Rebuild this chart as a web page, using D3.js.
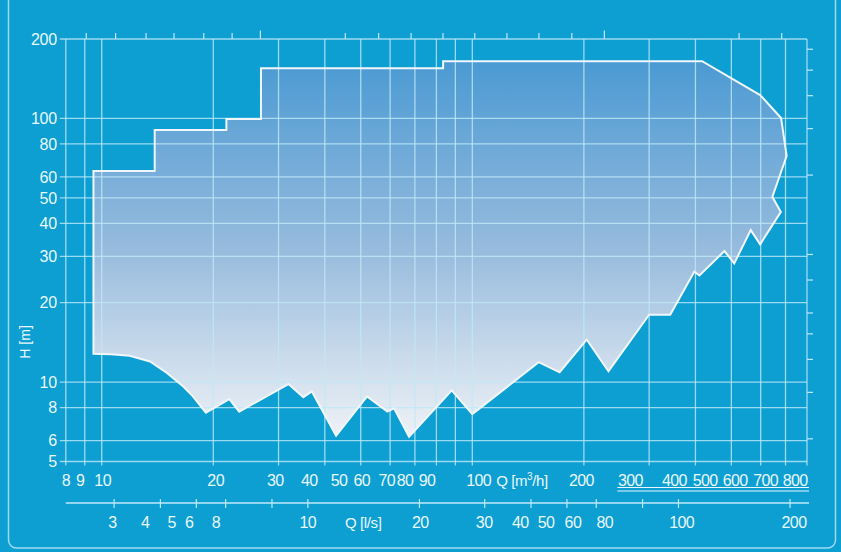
<!DOCTYPE html>
<html>
<head>
<meta charset="utf-8">
<script src="https://d3js.org/d3.v7.min.js"></script>
<style>
  html, body { margin: 0; padding: 0; background: #0d9fd2; }
  svg { display: block; }
  .lbl { font-family: 'Liberation Sans', Arial, sans-serif; fill: #e9f7fd; }
</style>
</head>
<body>
<div class="js-chart"></div>
<script>
(function() {
  'use strict';

  /* ------------------------------------------------------------ *\
      Pump range envelope (Q in m3/h, H in m), clockwise
  \* ------------------------------------------------------------ */

  var envelopeQ = [9.5, 9.5, 13.9, 13.9, 21.7, 21.7, 26.9, 26.9, 83.4, 83.4, 417, 598, 681, 705, 645, 680,
    598, 564, 509, 479, 410, 397, 342, 300, 233, 203.5, 172, 151, 100, 88, 67.5, 61.5, 59, 52, 42.9, 36.9,
    35.0, 31.9, 23.5, 22.1, 19.1, 17.6, 16.6, 15.0, 13.5, 11.9, 10.6, 9.5];
  var envelopeH = [12.8, 63.2, 63.2, 90.3, 90.3, 99.4, 99.4, 155, 155, 164.8, 164.8, 122.6, 100.3, 72.1, 50.4, 44.2,
    33.3, 37.7, 28.2, 31.4, 25.4, 26.2, 18.0, 18.0, 11.0, 14.5, 10.9, 11.9, 7.56, 9.3, 6.21, 7.96, 7.73, 8.82, 6.27, 9.21,
    8.77, 9.83, 7.73, 8.62, 7.66, 8.85, 9.62, 10.83, 11.98, 12.59, 12.75, 12.8];

  /* ------------------------------------------------------------ *\
      Axis values
  \* ------------------------------------------------------------ */

  var hTicks = [5, 6, 8, 10, 20, 30, 40, 50, 60, 80, 100, 200];
  var qGrid = [8, 9, 10, 20, 30, 40, 50, 60, 70, 80, 90, 100, 200, 300, 400, 500, 600, 700, 800];
  // the printed labels sit a little off their grid lines, so keep where they sit (in m3/h)
  var qLabels = ['8', '9', '10', '20', '30', '40', '50', '60', '70', '80', '90', '100', '200',
    '300', '400', '500', '600', '700', '800'];
  var qLabelAt = [8.0, 8.74, 10.06, 20.3, 29.4, 36.3, 43.7, 50.3, 58.8, 65.8, 75.5, 104, 197,
    267, 351, 425, 512, 619, 743];
  var lpsTicks = [3, 4, 5, 6, 8, 10, 20, 30, 40, 50, 60, 80, 100, 200];
  var lpsLabelAt = [2.97, 3.64, 4.29, 4.78, 5.65, 10.0, 20.1, 29.9, 37.4, 43.9, 51.9, 63.3, 102, 205];
  var ftTicks = [20, 30, 40, 50, 60, 80, 100, 200, 300, 400, 500, 600];
  var gpmTicks = [40, 48, 58, 69, 83, 99, 118, 200, 246, 301, 367, 447, 546, 666, 817, 1000, 2310, 3010];
  var gpmMajor = [118, 1000];

  /* ------------------------------------------------------------ *\
      Layout and scales
  \* ------------------------------------------------------------ */

  var width = 841;
  var height = 552;
  var plot = { left: 65.8, right: 807, top: 39, bottom: 461.5 };
  var gridColour = '#bfe9f8';

  var x = d3.scaleLog().domain([8, 800]).range([plot.left, plot.right]);
  var y = d3.scaleLog().domain([5, 200]).range([plot.bottom, plot.top]);
  var yFt = d3.scaleLog().domain([5 * 3.28084, 200 * 3.28084]).range([plot.bottom, plot.top]);
  var xLps = function(v) { return x(v * 3.6); };
  var xGpm = function(v) { return x(v / 4.40287); };

  var svg = d3.select('.js-chart')
    .append('svg')
    .attr('width', width)
    .attr('height', height);

  svg.append('rect')
    .attr('width', width)
    .attr('height', height)
    .attr('fill', '#0d9fd2');

  // outer frame
  svg.append('rect')
    .attr('x', 8.5)
    .attr('y', -20)
    .attr('width', 827)
    .attr('height', 568)
    .attr('rx', 8)
    .attr('fill', 'none')
    .attr('stroke', gridColour)
    .attr('stroke-opacity', 0.8)
    .attr('stroke-width', 1.5);

  /* ------------------------------------------------------------ *\
      Envelope fill
  \* ------------------------------------------------------------ */

  var grad = svg.append('defs').append('linearGradient')
    .attr('id', 'envFill')
    .attr('gradientUnits', 'userSpaceOnUse')
    .attr('x1', 0).attr('x2', 0)
    .attr('y1', y(165)).attr('y2', y(6.2));
  grad.append('stop').attr('offset', 0).attr('stop-color', '#4b9ad3');
  grad.append('stop').attr('offset', 0.5).attr('stop-color', '#97bbdd');
  grad.append('stop').attr('offset', 1).attr('stop-color', '#eff2f6');

  var envelope = envelopeQ.map(function(q, i) { return [q, envelopeH[i]]; });
  var line = d3.line()
    .x(function(d) { return x(d[0]); })
    .y(function(d) { return y(d[1]); });

  svg.append('path')
    .attr('d', line(envelope) + 'Z')
    .attr('fill', 'url(#envFill)');

  /* ------------------------------------------------------------ *\
      Grid
  \* ------------------------------------------------------------ */

  svg.append('g').selectAll('line')
    .data(hTicks)
    .join('line')
    .attr('x1', plot.left - 6)
    .attr('x2', plot.right)
    .attr('y1', function(d) { return y(d); })
    .attr('y2', function(d) { return y(d); })
    .attr('stroke', gridColour)
    .attr('stroke-opacity', 0.8)
    .attr('stroke-width', 1.3);

  svg.append('g').selectAll('line')
    .data(qGrid)
    .join('line')
    .attr('x1', function(d) { return x(d); })
    .attr('x2', function(d) { return x(d); })
    .attr('y1', plot.top)
    .attr('y2', plot.bottom + 4)
    .attr('stroke', gridColour)
    .attr('stroke-opacity', 0.8)
    .attr('stroke-width', 1.3);

  // unlabelled ticks: gpm along the top, ft down the right side
  svg.append('g').selectAll('line')
    .data(gpmTicks)
    .join('line')
    .attr('x1', function(d) { return xGpm(d); })
    .attr('x2', function(d) { return xGpm(d); })
    .attr('y1', plot.top)
    .attr('y2', function(d) { return gpmMajor.indexOf(d) >= 0 ? plot.top - 8.5 : plot.top - 6; })
    .attr('stroke', gridColour)
    .attr('stroke-width', 1.2);

  svg.append('g').selectAll('line')
    .data(ftTicks)
    .join('line')
    .attr('x1', plot.right)
    .attr('x2', plot.right + 6)
    .attr('y1', function(d) { return yFt(d); })
    .attr('y2', function(d) { return yFt(d); })
    .attr('stroke', gridColour)
    .attr('stroke-width', 1.2);

  /* ------------------------------------------------------------ *\
      Envelope outline
  \* ------------------------------------------------------------ */

  svg.append('path')
    .attr('d', line(envelope) + 'Z')
    .attr('fill', 'none')
    .attr('stroke', '#f1f6fa')
    .attr('stroke-width', 2)
    .attr('stroke-linejoin', 'miter');

  /* ------------------------------------------------------------ *\
      Labels
  \* ------------------------------------------------------------ */

  svg.append('g').selectAll('text')
    .data(hTicks)
    .join('text')
    .attr('class', 'lbl')
    .attr('x', plot.left - 9)
    .attr('y', function(d) { return y(d); })
    .attr('dy', '0.36em')
    .attr('text-anchor', 'end')
    .attr('font-size', 16)
    .attr('letter-spacing', -0.3)
    .text(function(d) { return d; });

  svg.append('text')
    .attr('class', 'lbl')
    .attr('transform', 'translate(30,' + y(14.2) + ') rotate(-90)')
    .attr('text-anchor', 'middle')
    .attr('font-size', 14)
    .text('H [m]');

  svg.append('g').selectAll('text')
    .data(qLabels)
    .join('text')
    .attr('class', 'lbl')
    .attr('x', function(d, i) { return x(qLabelAt[i]); })
    .attr('y', 486)
    .attr('text-anchor', 'middle')
    .attr('font-size', 16)
    .attr('letter-spacing', -0.6)
    .text(function(d) { return d; });

  var qTitle = svg.append('text')
    .attr('class', 'lbl')
    .attr('x', x(116))
    .attr('y', 486)
    .attr('font-size', 15)
    .attr('letter-spacing', -0.4);
  qTitle.append('tspan').text('Q [m');
  qTitle.append('tspan').attr('dy', -6).attr('font-size', 10).text('3');
  qTitle.append('tspan').attr('dy', 6).text('/h]');

  // double underline right below the 300 ... 800 labels
  var ulStart = x(qLabelAt[13]) - 13;
  svg.append('g').selectAll('line')
    .data([487.5, 491])
    .join('line')
    .attr('x1', ulStart)
    .attr('x2', plot.right + 2)
    .attr('y1', function(d) { return d; })
    .attr('y2', function(d) { return d; })
    .attr('stroke', '#e9f7fd')
    .attr('stroke-width', 1.2);

  /* ------------------------------------------------------------ *\
      Second axis, Q in l/s
  \* ------------------------------------------------------------ */

  svg.append('line')
    .attr('x1', plot.left)
    .attr('x2', plot.right + 2)
    .attr('y1', 503)
    .attr('y2', 503)
    .attr('stroke', gridColour)
    .attr('stroke-width', 1.3);

  svg.append('g').selectAll('line')
    .data(lpsTicks)
    .join('line')
    .attr('x1', function(d) { return xLps(d); })
    .attr('x2', function(d) { return xLps(d); })
    .attr('y1', 499)
    .attr('y2', 508)
    .attr('stroke', gridColour)
    .attr('stroke-width', 1.2);

  svg.append('g').selectAll('text')
    .data(lpsTicks)
    .join('text')
    .attr('class', 'lbl')
    .attr('x', function(d, i) { return xLps(lpsLabelAt[i]); })
    .attr('y', 528)
    .attr('text-anchor', 'middle')
    .attr('font-size', 16)
    .attr('letter-spacing', -0.6)
    .text(function(d) { return d; });

  svg.append('text')
    .attr('class', 'lbl')
    .attr('x', xLps(12.6))
    .attr('y', 528)
    .attr('font-size', 15)
    .attr('letter-spacing', -0.4)
    .text('Q [l/s]');
})();
</script>
</body>
</html>
